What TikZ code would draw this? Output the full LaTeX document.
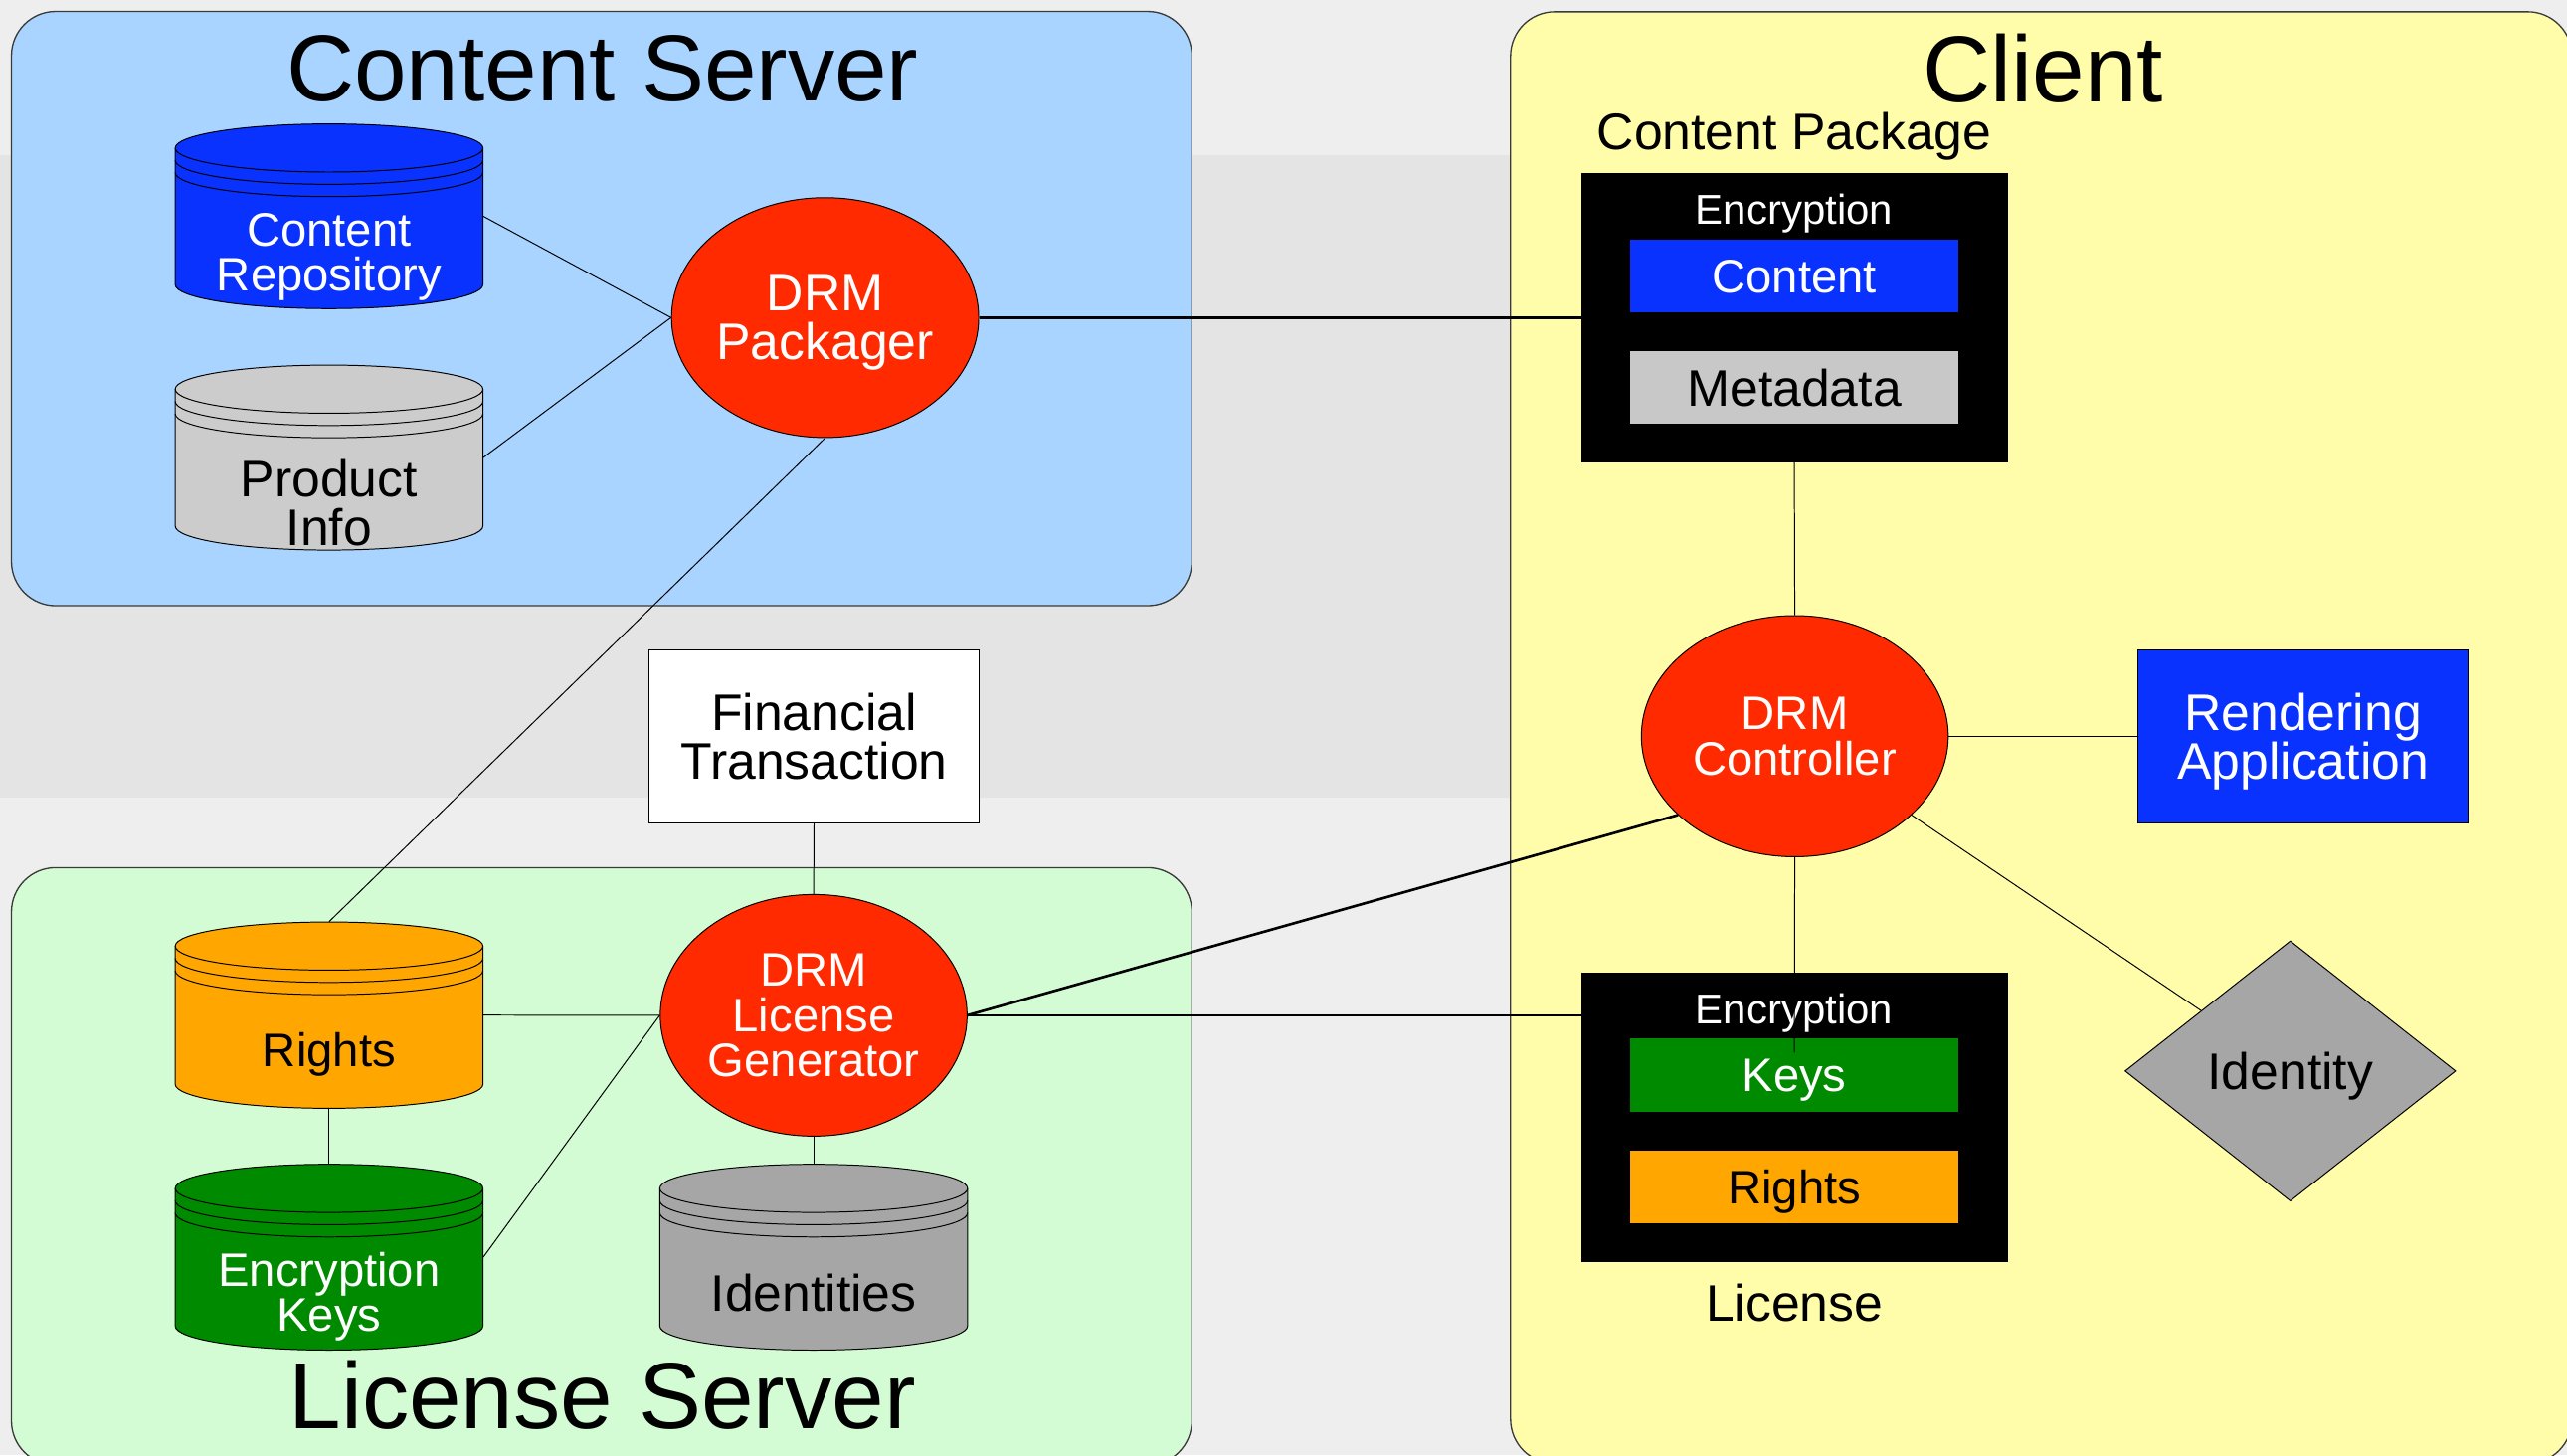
\documentclass[tikz,border=0pt]{standalone}
\usepackage{fontspec}
\setmainfont{Liberation Sans}
\usetikzlibrary{shapes.geometric,calc}

\definecolor{bgA}{HTML}{EEEEEE}
\definecolor{bgB}{HTML}{E4E4E4}
\definecolor{csfill}{HTML}{A8D4FF}
\definecolor{lsfill}{HTML}{D4FCD4}
\definecolor{clfill}{HTML}{FFFCAA}
\definecolor{dblue}{HTML}{0A32FF}
\definecolor{dred}{HTML}{FF2A00}
\definecolor{dorange}{HTML}{FFA600}
\definecolor{dgreen}{HTML}{008A00}
\definecolor{lgray}{HTML}{CCCCCC}
\definecolor{mgray}{HTML}{A6A6A6}
\definecolor{metagray}{HTML}{C8C8C8}
\definecolor{frame}{HTML}{3A3A3A}

\newcommand\dbcyl[5]{%
  \pgfmathsetmacro\cylh{#4-#3}%
  \pgfmathsetmacro\cylm{(#3+#4)/2}%
  \node[inner sep=0pt, minimum width=188bp, minimum height=\cylh bp] (#1) at (#2,\cylm) {};
  \filldraw[fill=#5, line width=0.6bp] ({#2-94},{#3+14.7}) -- ({#2-94},{#4-14.7})
     arc[start angle=180,end angle=0,x radius=94,y radius=14.7] -- ({#2+94},{#3+14.7})
     arc[start angle=0,end angle=-180,x radius=94,y radius=14.7] -- cycle;
  \foreach \dd in {0,7.5,15}
    \draw[line width=0.6bp] ({#2-94},{#3+14.7+\dd}) arc[start angle=180,end angle=0,x radius=94,y radius=14.7];
}

\tikzset{
  titletext/.style={font=\fontsize{57.4bp}{60bp}\selectfont, inner sep=0pt},
  lbl/.style={font=\fontsize{31.4bp}{30bp}\selectfont, align=center, inner sep=0pt, text depth=0pt},
  lbls/.style={font=\fontsize{28.7bp}{27.6bp}\selectfont, align=center, inner sep=0pt, text depth=0pt},
  lblxs/.style={font=\fontsize{25.5bp}{26bp}\selectfont, inner sep=0pt, text depth=0pt},
  region/.style={draw=frame, line width=0.8bp, rounded corners=27bp},
  proc/.style={ellipse, draw=black, line width=0.6bp, fill=dred, text=white, inner sep=0pt},
  pkgbox/.style={rectangle, fill=black, draw=black, inner sep=0pt, minimum width=260bp, minimum height=176bp},
  itembox/.style={rectangle, inner sep=0pt, minimum width=200bp, minimum height=44.6bp},
  plainbox/.style={rectangle, draw=black, line width=0.6bp, inner sep=0pt, minimum width=202bp, minimum height=105.5bp},
  conn/.style={draw=black, line width=0.6bp},
  thickconn/.style={draw=black, line width=1.6bp},
}

\begin{document}
\begin{tikzpicture}[x=1bp,y=-1bp]
\useasboundingbox (0,0) rectangle (1568,889);
\fill[bgA] (0,0) rectangle (1568,889);
\fill[bgB] (0,95) rectangle (1568,487);

% regions
\filldraw[region, fill=csfill] (7,7) rectangle (728,370);
\filldraw[region, fill=lsfill] (7,530) rectangle (728,895);
\filldraw[region, fill=clfill] (922.7,7.2) rectangle (1571,894);

\node[titletext] (tcs) at (368,42) {Content Server};
\node[titletext] (tls) at (368,852) {License Server};
\node[titletext] (tcl) at (1248,42) {Client};

% content server
\dbcyl{crepo}{201}{75.7}{188.5}{dblue}
\node[lbls, text=white] (crepoT) at (201,154) {Content\\Repository};
\dbcyl{pinfo}{201}{223}{336}{lgray}
\node[lbl] (pinfoT) at (201,306.8) {Product\\Info};
\node[proc, minimum width=186bp, minimum height=146.5bp, lbl, text=white] (pack) at (504,194) {DRM\\Packager};

% financial
\node[plainbox, fill=white, lbl] (fin) at (497.25,449.8) {Financial\\Transaction};

% license server
\dbcyl{rights}{201}{563.2}{677}{dorange}
\node[lbls] (rightsT) at (201,641) {Rights};
\dbcyl{enck}{201}{711.2}{824.7}{dgreen}
\node[lbls, text=white] (enckT) at (201,789) {Encryption\\Keys};
\dbcyl{idents}{497}{711.2}{824.7}{mgray}
\node[lbl] (identsT) at (497,789.6) {Identities};
\node[proc, minimum width=187.4bp, minimum height=147.6bp, lbls, text=white] (gen) at (497,620.2) {DRM\\License\\Generator};

% client
\node[lbl] (cpkgT) at (1096,80) {Content Package};
\node[pkgbox] (cpkg) at (1096,194) {};
\node[lblxs, text=white] (encA) at (1096,128) {Encryption};
\node[itembox, fill=dblue, lbls, text=white] (content) at (1096,168.7) {Content};
\node[itembox, fill=metagray, lbl] (meta) at (1096,236.8) {Metadata};

\node[proc, minimum width=187.4bp, minimum height=147.3bp, lbls, text=white] (ctrl) at (1096.3,449.7) {DRM\\Controller};
\node[plainbox, fill=dblue, lbl, text=white] (render) at (1406.75,449.7) {Rendering\\Application};
\node[diamond, draw=black, line width=0.6bp, fill=mgray, inner sep=0pt, minimum width=202bp, minimum height=159bp, lbl] (ident) at (1399,654.2) {Identity};

\node[pkgbox, minimum height=176.4bp] (lic) at (1096,682.6) {};
\node[lblxs, text=white] (encB) at (1096,616.2) {Encryption};
\node[itembox, fill=dgreen, lbls, text=white] (keys) at (1096,656.8) {Keys};
\node[itembox, fill=dorange, lbls] (lrights) at (1096,724.9) {Rights};
\node[lbl] (licT) at (1096,795.4) {License};
\coordinate (keystop) at (1096,643);

% connectors
\draw[conn] (crepo.east) -- (pack.west);
\draw[conn] (pinfo.east) -- (pack.west);
\draw[conn] (pack.south) -- (rights.north);
\draw[thickconn] (pack.east) -- (cpkg.west |- pack.east);
\draw[conn] (fin.south) -- (gen.north);
\draw[conn] (rights.east) -- (gen.west);
\draw[conn] (rights.south) -- (enck.north);
\draw[conn] (enck.east) -- (gen.west);
\draw[conn] (gen.south) -- (idents.north);
\draw[thickconn] (gen.east) -- (ctrl.214);
\draw[thickconn] (gen.east) -- (gen.east -| lic.west);
\draw[conn] (cpkg.south) -- (ctrl.north);
\draw[conn] (ctrl.east) -- (render.west);
\draw[conn] (ctrl) -- (ident);
\draw[conn] (ctrl.south) -- (keystop);
\end{tikzpicture}
\end{document}
